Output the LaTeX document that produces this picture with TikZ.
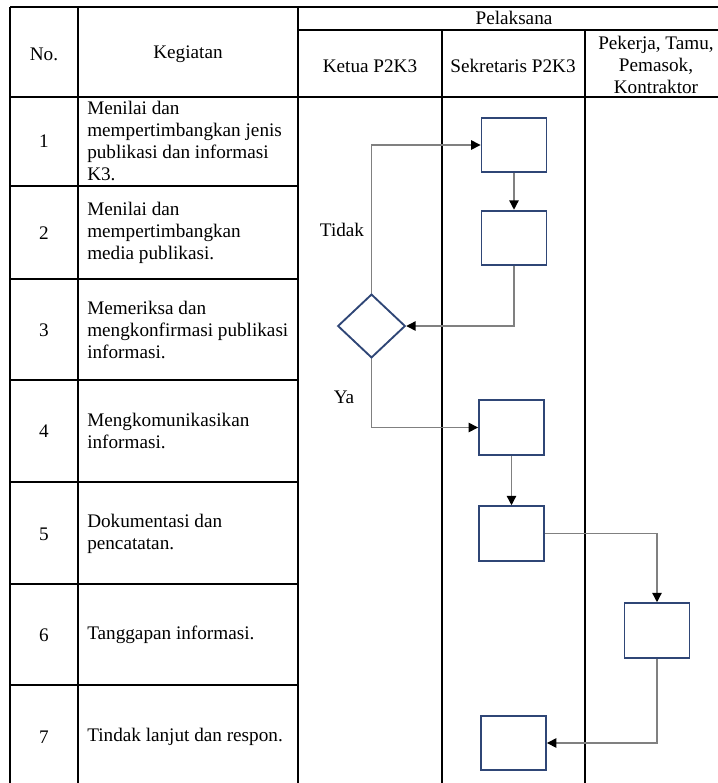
\documentclass[tikz,border=0pt]{standalone}
\usepackage{fontspec}
\setmainfont{Liberation Serif}
\usetikzlibrary{shapes.geometric, arrows.meta, positioning}
\definecolor{boxline}{HTML}{2F4676}
\definecolor{flowline}{HTML}{808080}

\begin{document}
\begin{tikzpicture}[x=0.75pt, y=-0.75pt,
    font=\fontsize{14.4}{16.5}\selectfont,
    grid/.style={draw, line width=0.9pt},
    head/.style={align=center, inner sep=0pt},
    task/.style={anchor=west, align=left, inner sep=0pt},
    num/.style={inner sep=0pt},
    act/.style={rectangle, draw=boxline, line width=1.4pt, minimum width=48.75pt, minimum height=41pt, inner sep=0pt},
    check/.style={diamond, draw=boxline, line width=1.4pt, minimum width=50.7pt, minimum height=47.8pt, inner sep=0pt},
    line/.style={draw=flowline, line width=1pt, -{Triangle[color=black, length=7pt, width=7pt]}}
]
    \useasboundingbox (0,0) rectangle (718,783);

    % Table grid
    \draw [grid] (10,7) -- (718,7);
    \draw [grid] (298,30) -- (718,30);
    \draw [grid] (10,97) -- (718,97);
    \foreach \y in {186,279,380,482,584,685}
        \draw [grid] (10,\y) -- (298,\y);
    \foreach \x in {10,78,298}
        \draw [grid] (\x,7) -- (\x,783);
    \foreach \x in {442,585}
        \draw [grid] (\x,30) -- (\x,783);

    % Header
    \node [head] (no) at (44,54) {No.};
    \node [head] (kegiatan) at (188,54) {Kegiatan};
    \node [head] (pelaksana) at (514,18) {Pelaksana};
    \node [head] (ketua) at (370,66) {Ketua P2K3};
    \node [head] (sekretaris) at (513,66) {Sekretaris P2K3};
    \node [head] (pekerja) at (656,65) {Pekerja, Tamu,\\Pemasok,\\Kontraktor};

    % Rows
    \foreach \n/\y in {1/141,2/233,3/330,4/431,5/534,6/635,7/737}
        \node [num] (no\n) at (44,\y) {\n};
    \node [task] (task1) at (87,141) {Menilai dan\\mempertimbangkan jenis\\publikasi dan informasi\\K3.};
    \node [task] (task2) at (87,233) {Menilai dan\\mempertimbangkan\\media publikasi.};
    \node [task] (task3) at (87,330) {Memeriksa dan\\mengkonfirmasi publikasi\\informasi.};
    \node [task] (task4) at (87,431) {Mengkomunikasikan\\informasi.};
    \node [task] (task5) at (87,534) {Dokumentasi dan\\pencatatan.};
    \node [task] (task6) at (87,635) {Tanggapan informasi.};
    \node [task] (task7) at (87,737) {Tindak lanjut dan respon.};

    % Flow
    \node [act] (sek1) at (514,145) {};
    \node [act] (sek2) at (514,238) {};
    \node [check] (periksa) at (371.5,326) {};
    \node [act] (sek4) at (511.5,427.5) {};
    \node [act] (sek5) at (511.5,533.5) {};
    \node [act] (pek6) at (657,630.5) {};
    \node [act] (sek7) at (513.5,743) {};

    \node (tidak) at (342,230) {Tidak};
    \node (ya) at (344,397) {Ya};

    % Connections
    \path [line] (sek1) -- (sek2);
    \path [line] (sek2.south) |- (periksa.east);
    \path [line] (periksa.north) |- (sek1.west);
    \path [line] (periksa.south) |- (sek4.west);
    \path [line] (sek4) -- (sek5);
    \path [line] (sek5.east) -| (pek6.north);
    \path [line] (pek6.south) |- (sek7.east);
\end{tikzpicture}
\end{document}
